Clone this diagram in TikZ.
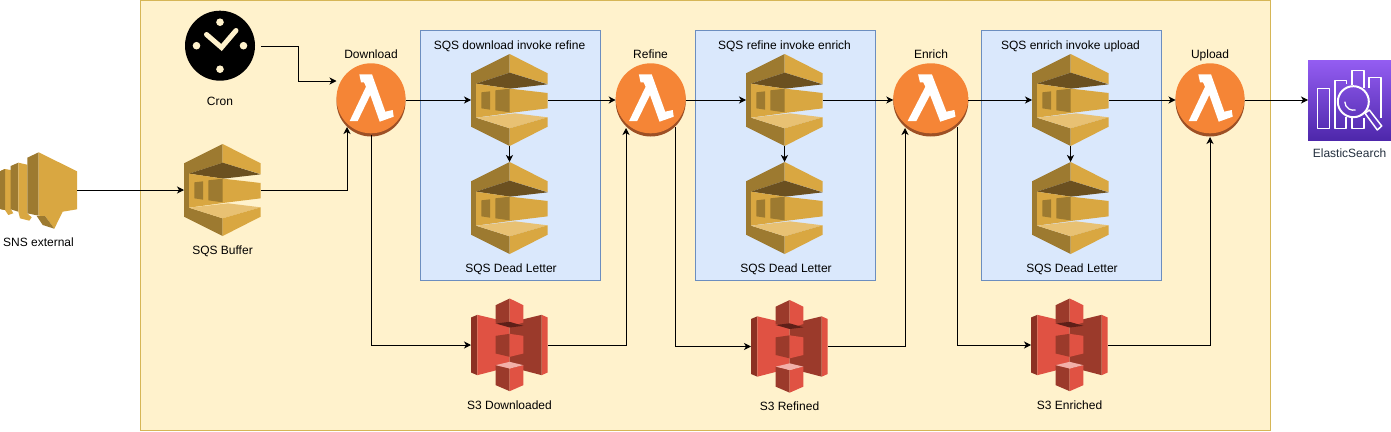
\documentclass[tikz,border=0pt]{standalone}
\usepackage{fontspec}
\setmainfont{Liberation Sans}
\usetikzlibrary{arrows.meta,calc}
\definecolor{sqA}{HTML}{D9A741}\definecolor{sqB}{HTML}{9D7A30}\definecolor{sqC}{HTML}{6B5020}\definecolor{sqD}{HTML}{E8C173}
\definecolor{sA}{HTML}{E05243}\definecolor{sB}{HTML}{9B3A2B}\definecolor{sC}{HTML}{5E1F18}\definecolor{sD}{HTML}{F2B0A9}\definecolor{sE}{HTML}{8C3123}
\definecolor{org}{HTML}{F58536}\definecolor{orgd}{HTML}{9D5025}
\definecolor{cutout}{HTML}{FFF2CC}\definecolor{cutline}{HTML}{D6B656}
\definecolor{bluef}{HTML}{DAE8FC}\definecolor{bluel}{HTML}{6C8EBF}
\definecolor{esA}{HTML}{4D27AA}\definecolor{esB}{HTML}{945DF2}\definecolor{esT}{HTML}{232F3E}
\tikzset{
 lbl/.style={inner sep=0pt,font=\fontsize{12}{14}\selectfont,text=black,text height=10pt,text depth=1.4pt},
 port/.style={draw=none,fill=none,inner sep=0pt,outer sep=0pt,rectangle},
 conn/.style={line width=1pt,-{Stealth[length=7pt,width=7pt,inset=2pt]}},
 zoomed/.style={shift={#1},scale=1/3},
}
\newcommand{\sqsicon}[3]{%
 \begin{scope}[zoomed={(#2,#3)}]
 \fill[sqB] (0,58)--(116,0)--(116,56)--(15,89)--(15,191)--(116,223)--(116,276)--(0,218)--cycle;
 \fill[sqA] (116,0)--(230,58)--(230,90)--(116,56)--cycle;
 \fill[sqC] (15,89)--(116,56)--(230,91)--(117,104)--cycle;
 \fill[sqA] (15,89)--(117,104)--(230,117)--(230,163)--(132,175)--(15,191)--cycle;
 \fill[sqB] (31,115)--(57,112)--(57,167)--(31,163)--cycle;
 \fill[sqB] (73,109)--(116,104)--(116,175)--(73,169)--cycle;
 \fill[sqD] (15,191)--(132,178)--(230,190)--(116,223)--cycle;
 \fill[sqA] (116,223)--(230,190)--(230,218)--(116,276)--cycle;
 \end{scope}
 \node[port,minimum width=77pt,minimum height=92pt] (#1) at (#2+38.5,#3+46) {};
}
\newcommand{\sthreeicon}[3]{%
 \begin{scope}[zoomed={(#2,#3)}]
 \fill[sE] (0,57)--(19,49)--(19,230)--(0,222)--cycle;
 \fill[sA] (19,49)--(116,72)--(116,205)--(19,230)--cycle;
 \fill[sA] (230,57)--(212,49)--(212,230)--(230,222)--cycle;
 \fill[sB] (212,49)--(116,72)--(116,205)--(212,230)--cycle;
 \fill[sB] (74,20)--(116,0)--(116,85)--(74,72)--cycle;
 \fill[sA] (157,20)--(116,0)--(116,85)--(157,72)--cycle;
 \fill[sC] (74,75)--(116,70)--(157,82)--(116,87)--cycle;
 \fill[sB] (74,112)--(116,106)--(116,175)--(74,165)--cycle;
 \fill[sA] (157,112)--(116,106)--(116,175)--(157,165)--cycle;
 \fill[sB] (74,200)--(116,210)--(116,278)--(74,260)--cycle;
 \fill[sA] (157,200)--(116,210)--(116,278)--(157,260)--cycle;
 \fill[sD] (74,200)--(116,190)--(157,200)--(116,210)--cycle;
 \end{scope}
 \node[port,minimum width=77pt,minimum height=93pt] (#1) at (#2+38.5,#3+46.5) {};
}
\newcommand{\lamicon}[3]{% name, cx, x radius
 \fill[orgd] (#2,101.5) ellipse [x radius=#3,y radius=35];
 \fill[org] (#2,98.3) ellipse [x radius=#3,y radius=35];
 \begin{scope}[shift={(#2,100)},xscale=#3/34.5]
 \fill[white] (-11.7,-25.7)--(1,-25.7)--(14.3,11.7)--(21.7,10)--(22.7,16.7)--(8.7,21.7)--(-.7,-5)--(-13.3,21)--(-21.3,21)--(-5,-13.3)--(-7,-17.7)--(-10,-17.7)--cycle;
 \end{scope}
 \node[port,minimum width=2*#3 pt,minimum height=74pt] (#1) at (#2,100) {};
}
\begin{document}
\begin{tikzpicture}[x=1pt,y=-1pt]
\useasboundingbox (0,0) rectangle (1391,431);
\node[port,draw=cutline,fill=cutout,minimum width=1130pt,minimum height=430pt,line width=1pt] (main) at (705.5,215.5) {};
\foreach \n/\x in {boxa/510.5,boxb/785.5,boxc/1071.5}{
 \node[port,draw=bluel,fill=bluef,line width=1pt,minimum width=180pt,minimum height=250pt] (\n) at (\x,155.5) {};
}
% SNS
\fill[sqB] (0,171.3)--(1,170.7)--(1,209.3)--(0,209)--cycle;
\fill[sqA] (1,170.7)--(5,169)--(11,170)--(11,209.3)--(13.3,213.3)--(8.3,215)--(5,210)--(1,209.3)--cycle;
\fill[sqB] (1,170.7)--(5,169)--(5,210)--(1,209.3)--cycle;
\fill[sqB] (10.7,166)--(18.3,162.7)--(18.3,211.7)--(10.7,209.3)--cycle;
\fill[sqA] (18.3,162.7)--(27.3,164.7)--(27.3,213.3)--(31.7,217.3)--(29.3,220.7)--(20,218.3)--(18.3,211.7)--cycle;
\fill[sqB] (27.3,157.7)--(38.7,152.3)--(38.7,215.7)--(27.3,213.3)--cycle;
\fill[sqA] (38.7,152.3)--(77,171.3)--(77,209.3)--(62.7,211.7)--(54.3,228.7)--(45,216)--(38.7,215.7)--cycle;
\fill[sqB] (36.7,216)--(45,216)--(54.3,228.7)--(42.7,225)--cycle;
\node[port,minimum width=77pt,minimum height=76pt] (sns) at (38.5,190) {};
\node[lbl] (snsl) at (38.5,241.7) {SNS external};
% Cron
\fill[black] (220,45.7) circle (35);
\foreach \a in {0,90,180,270}{\fill[cutout] ($(220,45.7)+(\a:23.5)$) circle (3.8);}
\draw[cutout,line width=5pt,line cap=round,line join=miter] (206.5,34.5)--(221.5,47.5)--(236,30.5);
\node[port,minimum width=81pt,minimum height=70pt] (cron) at (220,46) {};
\node[lbl] (cronl) at (220,101.5) {Cron};
% SQS
\sqsicon{buf}{184}{144}
\node[lbl] (bufl) at (222.5,250.5) {SQS Buffer};
\sqsicon{qa}{471}{54}\sqsicon{da}{471}{162}
\sqsicon{qb}{746}{54}\sqsicon{db}{746}{162}
\sqsicon{qc}{1032}{54}\sqsicon{dc}{1032}{162}
\node[lbl] (qal) at (509.5,45) {SQS download invoke refine};
\node[lbl] (qbl) at (784.5,45) {SQS refine invoke enrich};
\node[lbl] (qcl) at (1070.5,45) {SQS enrich invoke upload};
\node[lbl] (dal) at (511,268) {SQS Dead Letter};
\node[lbl] (dbl) at (786,268) {SQS Dead Letter};
\node[lbl] (dcl) at (1072,268) {SQS Dead Letter};
% S3
\sthreeicon{sa}{471}{298.5}\sthreeicon{sb}{751}{300}\sthreeicon{sc}{1031}{298.5}
\node[lbl] (sal) at (509.5,405) {S3 Downloaded};
\node[lbl] (sbl) at (789.5,406) {S3 Refined};
\node[lbl] (scl) at (1069.5,405) {S3 Enriched};
% Lambda
\lamicon{la}{371}{34.5}
\lamicon{lb}{650.7}{35}
\lamicon{lc}{930.8}{37.5}
\lamicon{ld}{1210}{34.5}
\node[lbl] (lal) at (371,54) {Download};
\node[lbl] (lbl) at (650.5,54) {Refine};
\node[lbl] (lcl) at (931,54) {Enrich};
\node[lbl] (ldl) at (1210,54) {Upload};
% Elastic
\shade[bottom color=esA,top color=esB] (1308,60) rectangle (1391,140.7);
\node[port,minimum width=83pt,minimum height=80pt] (es) at (1349.5,100) {};
\begin{scope}[white,line width=1.5pt,line join=round]
 \draw (1317.5,88.3) rectangle (1329.5,128.5);
 \draw (1346.5,84)--(1346.5,80.7)--(1335,80.7)--(1335,128.5)--(1346,128.5)--(1346,117);
 \draw (1352,85)--(1352,70.7)--(1364,70.7)--(1364,88);
 \draw (1352,118)--(1352,128.5)--(1364,128.5)--(1364,118);
 \draw (1369,88)--(1369,77.3)--(1381,77.3)--(1381,118);
 \draw[line width=2pt] (1353.3,101.7) circle (15.5);
 \draw[line width=1.3pt] (1344.8,101.7) arc (180:75:8.5);
 \draw[line width=1.5pt,fill=esA!70!esB] (1365,113.3)--(1377.3,130)--(1381.7,126)--(1369.3,110)--cycle;
\end{scope}
\node[lbl,text=esT] (esl) at (1349.5,153) {ElasticSearch};
% Connectors
\coordinate (pa) at (347,127);
\coordinate (pb) at (626,128);
\coordinate (pc) at (905,128);
\coordinate (pd) at (1210,137);
\coordinate (oa) at (371,135);
\coordinate (ob) at (675,127);
\coordinate (oc) at (957,127);
\coordinate (cronin) at (336.5,81);
\coordinate (cronout) at (261,46);
\draw[conn] (sns.east) -- (buf.west);
\draw[conn] (buf.east) -| (pa);
\draw[conn] (cronout) -- (298,46) -- (298,81) -- (cronin);
\draw[conn] (la.east) -- (qa.west);
\draw[conn] (qa.east) -- (lb.west);
\draw[conn] (lb.east) -- (qb.west);
\draw[conn] (qb.east) -- (lc.west);
\draw[conn] (lc.east) -- (qc.west);
\draw[conn] (qc.east) -- (ld.west);
\draw[conn] (ld.east) -- (es.west);
\draw[conn] (qa.south) -- (da.north);
\draw[conn] (qb.south) -- (db.north);
\draw[conn] (qc.south) -- (dc.north);
\draw[conn] (oa) |- (sa.west);
\draw[conn] (sa.east) -| (pb);
\draw[conn] (ob) |- (sb.west);
\draw[conn] (sb.east) -| (pc);
\draw[conn] (oc) |- (sc.west);
\draw[conn] (sc.east) -| (pd);
\end{tikzpicture}
\end{document}
